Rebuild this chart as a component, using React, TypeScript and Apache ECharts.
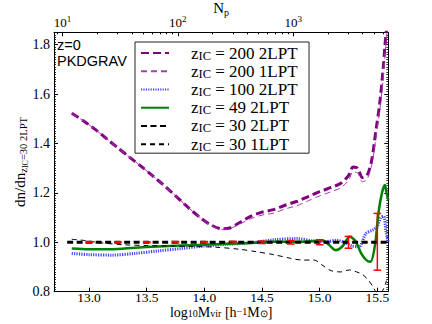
import React, { useEffect, useRef } from 'react';
import * as echarts from 'echarts';

// axis extents (log10 M_vir and ratio)
const X_MIN = 12.696;
const X_MAX = 15.595;
const Y_MIN = 0.8;
const Y_MAX = 1.85;
const LOG_MP = 11.77; // log10 of particle mass: N_p = M / m_p

const xTickValues = [13.0, 13.5, 14.0, 14.5, 15.0, 15.5];
const yTickValues = [0.8, 1.0, 1.2, 1.4, 1.6, 1.8];
const npTickValues = [10, 100, 1000];

// z_IC = 200 2LPT
const m200_2lpt = [12.85, 12.95, 13.05, 13.15, 13.25, 13.35, 13.45, 13.55, 13.65, 13.75, 13.85, 13.95, 14.05, 14.15, 14.22, 14.3, 14.4, 14.5, 14.6, 14.7, 14.8, 14.9, 15.0, 15.1, 15.18, 15.25, 15.29, 15.33, 15.37, 15.41, 15.45, 15.49, 15.52, 15.55, 15.57, 15.59];
const r200_2lpt = [1.522, 1.492, 1.458, 1.42, 1.382, 1.345, 1.308, 1.27, 1.23, 1.188, 1.145, 1.105, 1.072, 1.055, 1.058, 1.078, 1.105, 1.122, 1.132, 1.15, 1.165, 1.185, 1.205, 1.222, 1.238, 1.27, 1.305, 1.3, 1.262, 1.27, 1.33, 1.46, 1.56, 1.7, 1.82, 1.9];
// z_IC = 200 1LPT
const m200_1lpt = [12.85, 12.95, 13.05, 13.15, 13.25, 13.35, 13.45, 13.55, 13.65, 13.75, 13.85, 13.95, 14.05, 14.15, 14.22, 14.3, 14.4, 14.5, 14.6, 14.7, 14.8, 14.9, 15.0, 15.1, 15.18, 15.25, 15.29, 15.33, 15.37, 15.41, 15.45, 15.49, 15.52, 15.55, 15.57, 15.59];
const r200_1lpt = [1.522, 1.492, 1.458, 1.42, 1.382, 1.345, 1.308, 1.27, 1.23, 1.188, 1.145, 1.105, 1.07, 1.052, 1.055, 1.072, 1.095, 1.11, 1.118, 1.135, 1.148, 1.168, 1.188, 1.205, 1.22, 1.25, 1.285, 1.28, 1.245, 1.255, 1.31, 1.43, 1.53, 1.66, 1.78, 1.88];
// z_IC = 100 2LPT
const m100_2lpt = [12.85, 13.0, 13.2, 13.4, 13.6, 13.8, 14.0, 14.2, 14.4, 14.6, 14.8, 14.95, 15.05, 15.15, 15.22, 15.28, 15.34, 15.4, 15.46, 15.5, 15.53, 15.555, 15.575, 15.595];
const r100_2lpt = [0.955, 0.95, 0.948, 0.955, 0.965, 0.975, 0.985, 0.992, 0.998, 1.01, 1.015, 1.005, 1.003, 1.008, 0.998, 0.985, 0.982, 1.035, 1.05, 1.065, 1.1, 1.105, 1.04, 1.0];
// z_IC = 49 2LPT
const m49_2lpt = [12.85, 13.0, 13.2, 13.4, 13.6, 13.8, 14.0, 14.2, 14.4, 14.6, 14.8, 14.95, 15.02, 15.08, 15.14, 15.2, 15.26, 15.31, 15.36, 15.4, 15.44, 15.48, 15.51, 15.54, 15.565, 15.58, 15.595];
const r49_2lpt = [0.975, 0.972, 0.972, 0.978, 0.983, 0.987, 0.99, 0.994, 0.997, 1.002, 1.002, 1.005, 1.008, 0.99, 0.968, 0.985, 1.022, 1.005, 0.955, 0.93, 0.921, 0.99, 1.12, 1.2, 1.232, 1.2, 1.17];
// z_IC = 30 2LPT (reference)
const m30_2lpt = [12.81, 15.6];
const r30_2lpt = [1.0, 1.0];
// z_IC = 30 1LPT
const m30_1lpt = [12.85, 12.95, 13.1, 13.3, 13.5, 13.7, 13.9, 14.1, 14.3, 14.45, 14.6, 14.75, 14.85, 14.95, 15.03, 15.1, 15.18, 15.26, 15.32, 15.37, 15.42, 15.46, 15.5, 15.54, 15.58];
const r30_1lpt = [1.012, 1.008, 0.998, 0.99, 0.987, 0.985, 0.983, 0.98, 0.972, 0.962, 0.95, 0.935, 0.928, 0.928, 0.905, 0.885, 0.88, 0.888, 0.88, 0.87, 0.848, 0.822, 0.795, 0.8, 0.845];
// error bars on reference
const errX = [13.0, 13.25, 13.5, 13.75, 14.0, 14.25, 14.5, 14.75, 15.0, 15.25, 15.5];
const errY = [1.0, 1.0, 1.0, 1.0, 1.0, 1.0, 1.0, 1.0, 1.0, 1.0, 1.002];
const errE = [0.002, 0.002, 0.002, 0.003, 0.003, 0.004, 0.005, 0.007, 0.01, 0.024, 0.115];

const zip = (a: number[], b: number[]) => a.map((v, i) => [v, b[i]]);

const SERIF = 'Liberation Serif';

export default function App() {
  const ref = useRef<HTMLDivElement>(null);
  useEffect(() => {
    if (!ref.current) return;
    const chart = echarts.init(ref.current, undefined, { renderer: 'svg' });

    const npMajor = npTickValues.map((v) => Math.log10(v));
    const npMinor: number[] = [];
    for (let d = 0; d < 4; d++) {
      for (let k = 2; k <= 9; k++) {
        const v = Math.log10(k * Math.pow(10, d));
        if (v > X_MIN - LOG_MP && v < X_MAX - LOG_MP) npMinor.push(v);
      }
    }

    const lineBase = { type: 'line', showSymbol: false, symbol: 'none', smooth: 0.3, xAxisIndex: 0, yAxisIndex: 0 };

    const names = [
      'z_IC = 200 2LPT',
      'z_IC = 200 1LPT',
      'z_IC = 100 2LPT',
      'z_IC = 49 2LPT',
      'z_IC = 30 2LPT',
      'z_IC = 30 1LPT',
    ];

    const option: any = {
      animation: false,
      backgroundColor: '#fff',
      grid: { left: 54, right: 43.7, top: 32.3, bottom: 32.3, containLabel: false, outerBoundsMode: 'none' },
      xAxis: [
        {
          type: 'value',
          min: X_MIN,
          max: X_MAX,
          position: 'bottom',
          name: '{a|log}{s|10}{a|M}{s|vir}{a| [h}{p|−1}{a|M}{s|⊙}{a|]}',
          nameLocation: 'middle',
          nameGap: 15,
          nameMoveOverlap: false,
          nameTextStyle: {
            fontFamily: SERIF,
            color: '#000',
            rich: {
              a: { fontFamily: SERIF, fontSize: 14, lineHeight: 12, verticalAlign: 'middle', color: '#000' },
              s: { fontFamily: SERIF, fontSize: 10, lineHeight: 2, verticalAlign: 'bottom', color: '#000' },
              p: { fontFamily: SERIF, fontSize: 10, lineHeight: 6, verticalAlign: 'top', color: '#000' },
            },
          },
          axisLine: { show: true, onZero: false, lineStyle: { color: '#000', width: 1 } },
          axisTick: { show: true, inside: true, length: 4, customValues: xTickValues, lineStyle: { color: '#000' } },
          axisLabel: {
            show: true,
            customValues: xTickValues,
            formatter: (v: number) => v.toFixed(1),
            fontFamily: SERIF,
            fontSize: 13.5,
            lineHeight: 12,
            color: '#000',
            margin: 0,
          },
          splitLine: { show: false },
        },
        {
          type: 'value',
          min: X_MIN - LOG_MP,
          max: X_MAX - LOG_MP,
          position: 'top',
          name: '{a|N}{s|p}',
          nameLocation: 'middle',
          nameGap: 15,
          nameMoveOverlap: false,
          nameTextStyle: {
            rich: {
              a: { fontFamily: SERIF, fontSize: 15, lineHeight: 18, verticalAlign: 'middle', color: '#000' },
              s: { fontFamily: SERIF, fontSize: 10, lineHeight: 8, verticalAlign: 'bottom', color: '#000' },
            },
          },
          axisLine: { show: true, onZero: false, lineStyle: { color: '#000', width: 1 } },
          axisTick: { show: true, inside: true, length: 4, customValues: npMajor, lineStyle: { color: '#000' } },
          axisLabel: {
            show: true,
            customValues: npMajor,
            formatter: (v: number) => '{b|10}{p|' + Math.round(v) + '}',
            margin: 2,
            rich: {
              b: { fontFamily: SERIF, fontSize: 13, lineHeight: 16, verticalAlign: 'middle', color: '#000' },
              p: { fontFamily: SERIF, fontSize: 9, lineHeight: 10, verticalAlign: 'top', color: '#000' },
            },
          },
          splitLine: { show: false },
        },
        {
          type: 'value',
          min: X_MIN - LOG_MP,
          max: X_MAX - LOG_MP,
          position: 'top',
          axisLine: { show: false },
          axisTick: { show: true, inside: true, length: 2, customValues: npMinor, lineStyle: { color: '#000' } },
          axisLabel: { show: false },
          splitLine: { show: false },
        },
      ],
      yAxis: [
        {
          type: 'value',
          min: Y_MIN,
          max: Y_MAX,
          interval: 0.2,
          position: 'left',
          name: '{a|dn/dn}{s|z}{q|IC}{s|=30 2LPT}',
          nameLocation: 'middle',
          nameGap: 25,
          nameRotate: 90,
          nameMoveOverlap: false,
          nameTextStyle: {
            rich: {
              a: { fontFamily: SERIF, fontSize: 15, lineHeight: 18, verticalAlign: 'middle', color: '#000' },
              s: { fontFamily: SERIF, fontSize: 10.5, lineHeight: 8, verticalAlign: 'bottom', color: '#000' },
              q: { fontFamily: SERIF, fontSize: 8, lineHeight: 5, verticalAlign: 'bottom', color: '#000' },
            },
          },
          axisLine: { show: true, onZero: false, lineStyle: { color: '#000', width: 1 } },
          axisTick: { show: true, inside: true, length: 4, lineStyle: { color: '#000' } },
          minorTick: { show: true, splitNumber: 20, length: 2, lineStyle: { color: '#000', width: 0.8 } },
          axisLabel: {
            show: true,
            customValues: yTickValues,
            formatter: (v: number) => v.toFixed(1),
            fontFamily: SERIF,
            fontSize: 14,
            color: '#000',
            margin: 4,
          },
          splitLine: { show: false },
          minorSplitLine: { show: false },
        },
        {
          type: 'value',
          min: Y_MIN,
          max: Y_MAX,
          interval: 0.2,
          position: 'right',
          axisLine: { show: true, onZero: false, lineStyle: { color: '#000', width: 1 } },
          axisTick: { show: true, inside: true, length: 4, lineStyle: { color: '#000' } },
          minorTick: { show: true, splitNumber: 20, length: 2, lineStyle: { color: '#000', width: 0.8 } },
          axisLabel: { show: false },
          splitLine: { show: false },
        },
      ],
      legend: {
        data: names,
        orient: 'vertical',
        left: 135,
        top: 42,
        padding: [2.5, 2, 0, 5],
        itemGap: 0.74,
        itemWidth: 28,
        itemHeight: 14,
        borderColor: '#222',
        borderWidth: 1,
        backgroundColor: '#fff',
        itemStyle: { color: 'rgba(0,0,0,0)', borderWidth: 0, opacity: 0 },
        formatter: (name: string) => {
          const rest = name.replace('z_IC', '');
          return '{g|}{z|z}{s|IC}{t|' + rest + '}';
        },
        textStyle: {
          fontFamily: SERIF,
          fontSize: 17,
          color: '#000',
          rich: {
            g: { width: 17, lineHeight: 18, verticalAlign: 'middle' },
            z: { fontFamily: SERIF, fontSize: 17, lineHeight: 18, verticalAlign: 'middle', color: '#000' },
            s: { fontFamily: SERIF, fontSize: 12.5, lineHeight: 8, verticalAlign: 'bottom', color: '#000' },
            t: { fontFamily: SERIF, fontSize: 17, lineHeight: 18, verticalAlign: 'middle', color: '#000', width: 96 },
          },
        },
      },
      graphic: [
        { type: 'text', left: 57, top: 37, style: { text: 'z=0', font: '14.5px "Liberation Sans"', fill: '#000' } },
        { type: 'text', left: 57, top: 53, style: { text: 'PKDGRAV', font: '14.5px "Liberation Sans"', fill: '#000' } },
      ],
      series: [
        { ...lineBase, name: names[0], data: zip(m200_2lpt, r200_2lpt), lineStyle: { color: '#800080', width: 3, type: [8, 4] }, itemStyle: { color: '#800080' } },
        { ...lineBase, name: names[1], data: zip(m200_1lpt, r200_1lpt), lineStyle: { color: '#a040a8', width: 1, type: [6, 4] }, itemStyle: { color: '#a040a8' } },
        { ...lineBase, name: names[2], data: zip(m100_2lpt, r100_2lpt), lineStyle: { color: '#4040ff', width: 3, type: [1.2, 1.2] }, itemStyle: { color: '#4040ff' } },
        { ...lineBase, name: names[3], data: zip(m49_2lpt, r49_2lpt), lineStyle: { color: '#008000', width: 2.5, type: 'solid' }, itemStyle: { color: '#008000' } },
        { ...lineBase, name: names[4], smooth: false, data: zip(m30_2lpt, r30_2lpt), lineStyle: { color: '#000', width: 3, type: [6, 3.5] }, itemStyle: { color: '#000' } },
        { ...lineBase, name: names[5], data: zip(m30_1lpt, r30_1lpt), lineStyle: { color: '#000', width: 1, type: [5, 4] }, itemStyle: { color: '#000' } },
        {
          type: 'custom',
          name: 'err',
          xAxisIndex: 0,
          yAxisIndex: 0,
          data: errX.map((x, i) => [x, errY[i] - errE[i], errY[i] + errE[i]]),
          encode: { x: 0, y: [1, 2] },
          z: 5,
          renderItem: (params: any, api: any) => {
            const x = api.value(0);
            const lo = api.coord([x, api.value(1)]);
            const hi = api.coord([x, api.value(2)]);
            const hw = 3.8;
            const st = { stroke: '#ff0000', lineWidth: 1.5 };
            return {
              type: 'group',
              children: [
                { type: 'line', shape: { x1: lo[0], y1: lo[1], x2: hi[0], y2: hi[1] }, style: st },
                { type: 'line', shape: { x1: lo[0] - hw, y1: lo[1], x2: lo[0] + hw, y2: lo[1] }, style: st },
                { type: 'line', shape: { x1: hi[0] - hw, y1: hi[1], x2: hi[0] + hw, y2: hi[1] }, style: st },
              ],
            };
          },
        },
      ],
    };

    chart.setOption(option);
    return () => chart.dispose();
  }, []);

  return <div ref={ref} style={{ position: 'fixed', left: 0, top: 0, width: 432, height: 324, background: '#fff' }} />;
}
